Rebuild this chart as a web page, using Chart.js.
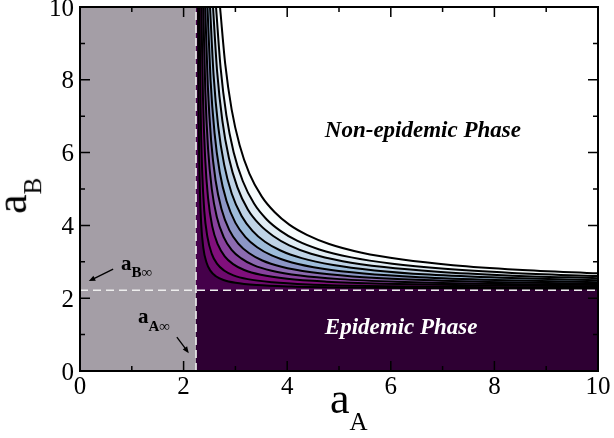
<!DOCTYPE html>
<html>
<head>
<meta charset="utf-8">
<script src="https://cdn.jsdelivr.net/npm/chart.js@4.4.1/dist/chart.umd.min.js"></script>
<style>
  html, body { margin: 0; padding: 0; background: #fff; }
  #wrap { width: 614px; height: 438px; position: relative; overflow: hidden; }
  #wrap canvas { position: absolute; left: 0; top: 0; }
  .lbl { position: absolute; white-space: nowrap; font-family: "Liberation Serif", serif; color: #000; }
</style>
</head>
<body>
<div id="wrap"><canvas id="phaseChart" width="614" height="438"></canvas></div>
<script>
// asymptotes (critical values)
var aAinf = 2.24;
var aBinf = 2.22;

// axis ticks
var majorTicks = [0, 2, 4, 6, 8, 10];

// contour lines, innermost first
var contourX = [
    [2.279, 2.292, 2.311, 2.339, 2.380, 2.442, 2.520, 2.623, 2.770, 3.001, 3.41, 4.08, 5.17, 6.97, 10.02],
    [2.307, 2.328, 2.358, 2.399, 2.459, 2.544, 2.648, 2.781, 2.962, 3.238, 3.71, 4.42, 5.53, 7.27, 10.02],
    [2.343, 2.374, 2.416, 2.473, 2.552, 2.663, 2.794, 2.956, 3.171, 3.49, 4.00, 4.76, 5.87, 7.53, 10.02],
    [2.379, 2.419, 2.472, 2.544, 2.641, 2.774, 2.927, 3.113, 3.35, 3.70, 4.25, 5.02, 6.13, 7.72, 10.02],
    [2.417, 2.467, 2.531, 2.617, 2.731, 2.883, 3.056, 3.26, 3.52, 3.89, 4.47, 5.26, 6.35, 7.88, 10.02],
    [2.461, 2.520, 2.597, 2.698, 2.829, 3.001, 3.195, 3.42, 3.70, 4.09, 4.69, 5.48, 6.56, 8.02, 10.02],
    [2.510, 2.579, 2.668, 2.783, 2.930, 3.120, 3.33, 3.57, 3.87, 4.28, 4.89, 5.69, 6.74, 8.15, 10.02],
    [2.568, 2.647, 2.748, 2.875, 3.037, 3.24, 3.47, 3.73, 4.04, 4.46, 5.07, 5.87, 6.90, 8.25, 10.02],
    [2.626, 2.715, 2.826, 2.966, 3.142, 3.36, 3.60, 3.87, 4.19, 4.62, 5.24, 6.03, 7.04, 8.34, 10.02],
    [2.703, 2.804, 2.928, 3.082, 3.27, 3.51, 3.76, 4.04, 4.38, 4.81, 5.44, 6.22, 7.20, 8.45, 10.02]
];
var contourY = [
    [10.00, 6.95, 5.15, 4.06, 3.39, 2.981, 2.750, 2.603, 2.500, 2.422, 2.360, 2.319, 2.291, 2.272, 2.259],
    [10.00, 7.25, 5.51, 4.40, 3.69, 3.218, 2.942, 2.761, 2.628, 2.524, 2.439, 2.379, 2.338, 2.308, 2.287],
    [10.00, 7.51, 5.85, 4.74, 3.98, 3.47, 3.151, 2.936, 2.774, 2.643, 2.532, 2.453, 2.396, 2.354, 2.323],
    [10.00, 7.70, 6.11, 5.00, 4.23, 3.68, 3.33, 3.093, 2.907, 2.754, 2.621, 2.524, 2.452, 2.399, 2.359],
    [10.00, 7.86, 6.33, 5.24, 4.45, 3.87, 3.50, 3.24, 3.036, 2.863, 2.711, 2.597, 2.511, 2.447, 2.397],
    [10.00, 8.00, 6.54, 5.46, 4.67, 4.07, 3.68, 3.40, 3.175, 2.981, 2.809, 2.678, 2.577, 2.500, 2.441],
    [10.00, 8.13, 6.72, 5.67, 4.87, 4.26, 3.85, 3.55, 3.31, 3.100, 2.910, 2.763, 2.648, 2.559, 2.490],
    [10.00, 8.23, 6.88, 5.85, 5.05, 4.44, 4.02, 3.71, 3.45, 3.22, 3.017, 2.855, 2.728, 2.627, 2.548],
    [10.00, 8.32, 7.02, 6.01, 5.22, 4.60, 4.17, 3.85, 3.58, 3.34, 3.122, 2.946, 2.806, 2.695, 2.606],
    [10.00, 8.43, 7.18, 6.20, 5.42, 4.79, 4.36, 4.02, 3.74, 3.49, 3.25, 3.062, 2.908, 2.784, 2.683]
];
// colour of the band just inside each contour (innermost first)
var bandColors = ['#45004a', '#6e0a6e', '#810f7c', '#88419d', '#8c6bb1',
                  '#8c96c6', '#9ebcda', '#bfd3e6', '#e0ecf4', '#f7fcfd'];

var datasets = [];

// dashed asymptotes on top
datasets.push({
    data: [{x: aAinf, y: 0}, {x: aAinf, y: 10}],
    borderColor: '#eeeeee', borderWidth: 1.6, borderDash: [8, 5],
    pointRadius: 0, fill: false, order: 0
});
datasets.push({
    data: [{x: 0, y: aBinf}, {x: 10, y: aBinf}],
    borderColor: '#eeeeee', borderWidth: 1.6, borderDash: [8, 5],
    pointRadius: 0, fill: false, order: 0
});

// contour lines (drawn above the fills)
for (var i = 0; i < contourX.length; i++) {
    var pts = contourX[i].map(function (v, j) { return {x: v, y: contourY[i][j]}; });
    datasets.push({
        data: pts,
        borderColor: '#000', borderWidth: 2,
        cubicInterpolationMode: 'monotone',
        pointRadius: 0, fill: false, order: 10
    });
}

// epidemic region (below aBinf) and grey region (left of aAinf)
datasets.push({
    data: [{x: aAinf, y: aBinf}, {x: 10, y: aBinf}],
    borderWidth: 0, borderColor: 'rgba(0,0,0,0)',
    backgroundColor: '#2e0033', fill: 'origin', pointRadius: 0, order: 50
});
datasets.push({
    data: [{x: 0, y: 10}, {x: aAinf, y: 10}],
    borderWidth: 0, borderColor: 'rgba(0,0,0,0)',
    backgroundColor: '#a49ea6', fill: 'origin', pointRadius: 0, order: 50
});

// filled bands: each contour filled down to 0, outer ones painted first
for (var k = 0; k < contourX.length; k++) {
    var fpts = [{x: aAinf, y: 10}].concat(contourX[k].map(function (v, j) { return {x: v, y: contourY[k][j]}; }));
    datasets.push({
        data: fpts,
        borderWidth: 0, borderColor: 'rgba(0,0,0,0)',
        backgroundColor: bandColors[k], fill: 'origin',
        tension: 0, pointRadius: 0, order: 100 + k
    });
}

function arrow(ctx, x1, y1, x2, y2) {
    var ang = Math.atan2(y2 - y1, x2 - x1), hl = 7;
    ctx.beginPath();
    ctx.moveTo(x1, y1);
    ctx.lineTo(x2 - Math.cos(ang) * 4, y2 - Math.sin(ang) * 4);
    ctx.stroke();
    ctx.beginPath();
    ctx.moveTo(x2, y2);
    ctx.lineTo(x2 - hl * Math.cos(ang - 0.4), y2 - hl * Math.sin(ang - 0.4));
    ctx.lineTo(x2 - hl * Math.cos(ang + 0.4), y2 - hl * Math.sin(ang + 0.4));
    ctx.closePath();
    ctx.fill();
}

// frame, inward ticks on all four sides, and the two arrows
var decor = {
    id: 'decor',
    afterDraw: function (chart) {
        var ctx = chart.ctx, ca = chart.chartArea;
        var xs = chart.scales.x, ys = chart.scales.y;
        ctx.save();
        ctx.strokeStyle = '#000';
        ctx.fillStyle = '#000';
        ctx.lineWidth = 2;
        ctx.strokeRect(ca.left, ca.top, ca.right - ca.left, ca.bottom - ca.top);
        ctx.lineWidth = 1.5;
        ctx.beginPath();
        for (var v = 1; v < 10; v++) {
            var len = v % 2 ? 5 : 10;
            var px = xs.getPixelForValue(v), py = ys.getPixelForValue(v);
            ctx.moveTo(px, ca.bottom); ctx.lineTo(px, ca.bottom - len);
            ctx.moveTo(px, ca.top); ctx.lineTo(px, ca.top + len);
            ctx.moveTo(ca.left, py); ctx.lineTo(ca.left + len, py);
            ctx.moveTo(ca.right, py); ctx.lineTo(ca.right - len, py);
        }
        ctx.stroke();
        ctx.lineWidth = 1.3;
        arrow(ctx, xs.getPixelForValue(0.64), ys.getPixelForValue(2.80),
                   xs.getPixelForValue(0.17), ys.getPixelForValue(2.47));
        arrow(ctx, xs.getPixelForValue(1.87), ys.getPixelForValue(0.93),
                   xs.getPixelForValue(2.10), ys.getPixelForValue(0.49));
        ctx.restore();
    }
};

var chart = new Chart(document.getElementById('phaseChart'), {
    type: 'line',
    data: {datasets: datasets},
    options: {
        responsive: false,
        animation: false,
        events: [],
        layout: {padding: {top: 7, right: 16, left: 0, bottom: 0}},
        plugins: {legend: {display: false}, tooltip: {enabled: false}},
        scales: {
            x: {
                type: 'linear', min: 0, max: 10,
                grid: {display: false, drawTicks: false},
                border: {display: false},
                afterBuildTicks: function (s) { s.ticks = majorTicks.map(function (v) { return {value: v}; }); },
                afterFit: function (s) { s.height = 67; s.paddingLeft = 0; s.paddingRight = 0; },
                ticks: {display: false}
            },
            y: {
                type: 'linear', min: 0, max: 10,
                grid: {display: false, drawTicks: false},
                border: {display: false},
                afterBuildTicks: function (s) { s.ticks = majorTicks.map(function (v) { return {value: v}; }); },
                afterFit: function (s) { s.width = 80; s.paddingTop = 0; s.paddingBottom = 0; },
                ticks: {display: false}
            }
        }
    },
    plugins: [decor]
});

// text is laid out as html on top of the canvas, placed with the chart's scales
var wrap = document.getElementById('wrap');
function addLabel(html, x, baseline, size, align, extra) {
    var d = document.createElement('div');
    d.className = 'lbl';
    d.innerHTML = html;
    d.style.fontSize = size + 'px';
    d.style.lineHeight = size + 'px';
    d.style.left = x + 'px';
    d.style.top = (baseline - 0.8375 * size) + 'px';
    if (align === 'center') d.style.transform = 'translateX(-50%)';
    if (align === 'right') d.style.transform = 'translateX(-100%)';
    if (extra) d.style.cssText += extra;
    wrap.appendChild(d);
    return d;
}
function sub(text, size, drop) {
    return '<span style="font-size:' + size + 'px;position:relative;top:' + drop + 'px">' + text + '</span>';
}

var xs = chart.scales.x, ys = chart.scales.y;
majorTicks.forEach(function (v) {
    addLabel(String(v), xs.getPixelForValue(v), 394, 25, 'center');
    addLabel(String(v), 74, ys.getPixelForValue(v) + 8.5, 25, 'right');
});

addLabel('a' + sub('A', 25, 17), 330, 414, 44, 'left');
var yTitle = addLabel('a' + sub('B', 25, 15), 27, 214, 44, 'left');
yTitle.style.transformOrigin = '0 ' + (0.8375 * 44) + 'px';
yTitle.style.transform = 'rotate(-90deg)';

addLabel('Non-epidemic Phase', xs.getPixelForValue(6.62), ys.getPixelForValue(6.43), 23, 'center',
    'font-weight:bold;font-style:italic;');
addLabel('Epidemic Phase', xs.getPixelForValue(6.2), ys.getPixelForValue(1.02), 23, 'center',
    'font-weight:bold;font-style:italic;color:#fff;');
addLabel('a' + sub('B\u221E', 15, 7), xs.getPixelForValue(0.79), ys.getPixelForValue(2.77), 21, 'left',
    'font-weight:bold;');
addLabel('a' + sub('A\u221E', 15, 8), xs.getPixelForValue(1.12), ys.getPixelForValue(1.29), 21, 'left',
    'font-weight:bold;');
</script>
</body>
</html>
